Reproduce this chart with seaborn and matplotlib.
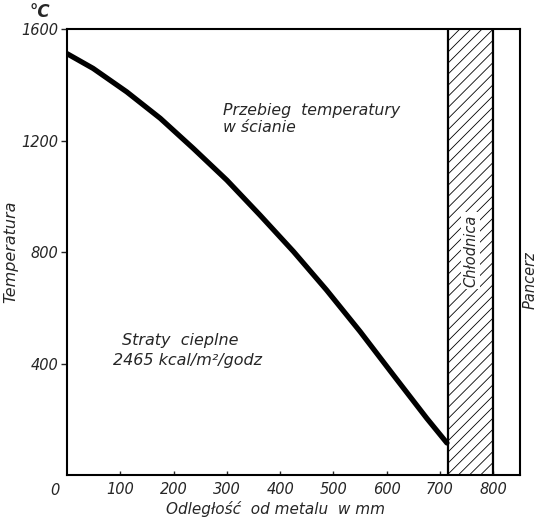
import pandas as pd
import matplotlib.pyplot as plt
import seaborn as sns

# Wall temperature profile
odleglosc_mm = [0, 49, 112, 175, 237, 300, 362, 425, 487, 550, 612, 675, 713]
temperatura = [1512, 1459, 1375, 1280, 1172, 1058, 933, 802, 664, 515, 360, 204, 115]

# Cooler zone (Chłodnica) and axis ranges
chlodnica_od, chlodnica_do = 715, 800
x_ticks = [100, 200, 300, 400, 500, 600, 700, 800]
y_ticks = [400, 800, 1200, 1600]

df = pd.DataFrame({"mm": odleglosc_mm, "T": temperatura})

sns.set_style("ticks")
plt.rcParams["font.family"] = ["DejaVu Sans"]
plt.rcParams["font.style"] = "italic"
plt.rcParams["hatch.linewidth"] = 0.6

fig = plt.figure(figsize=(5.36, 5.20), dpi=100)
ax = fig.add_axes([0.125, 0.0865, 0.845, 0.8575])

sns.lineplot(data=df, x="mm", y="T", color="black", linewidth=3.8, ax=ax)

ax.axvspan(chlodnica_od, chlodnica_do, facecolor="white", edgecolor="black",
           hatch="///", linewidth=0)
ax.axvline(chlodnica_od, color="black", linewidth=1.6)
ax.axvline(chlodnica_do, color="black", linewidth=1.6)

ax.set_xlim(0, 850)
ax.set_ylim(0, 1600)
ax.set_xticks(x_ticks)
ax.set_yticks(y_ticks)
ax.tick_params(axis="x", direction="in", length=3, width=1, labelsize=10.5, pad=5)
ax.tick_params(axis="y", direction="out", length=4, width=1, labelsize=10.5, pad=2)
for s in ax.spines.values():
    s.set_linewidth(1.5)
    s.set_color("black")

ax.set_xlabel("Odległość  od metalu  w mm", fontsize=11)
ax.xaxis.set_label_coords(0.461, -0.058)
ax.set_ylabel("Temperatura", fontsize=11.5)
ax.yaxis.set_label_coords(-0.108, 0.5)

ax.text(-22, -30, "0", fontsize=10.5, ha="center", va="top")
ax.text(-51, 1662, "°C", fontsize=12, fontweight="bold", ha="center", va="center")

ax.text(293, 1278, "Przebieg  temperatury\nw ścianie", fontsize=11.3,
        ha="left", va="center", linespacing=1.15)
ax.text(103, 484, "Straty  cieplne", fontsize=11.5, ha="left", va="center")
ax.text(86, 412, "2465 kcal/m²/godz", fontsize=11.5, ha="left", va="center")

ax.text((chlodnica_od + chlodnica_do) / 2, 806, "Chłodnica", rotation=90,
        fontsize=10.5, ha="center", va="center",
        bbox=dict(facecolor="white", edgecolor="none", pad=1.5))
ax.text(869, 700, "Pancerz", rotation=90, fontsize=10.5, ha="center",
        va="center", clip_on=False)

fig.savefig("out.png", dpi=100)
